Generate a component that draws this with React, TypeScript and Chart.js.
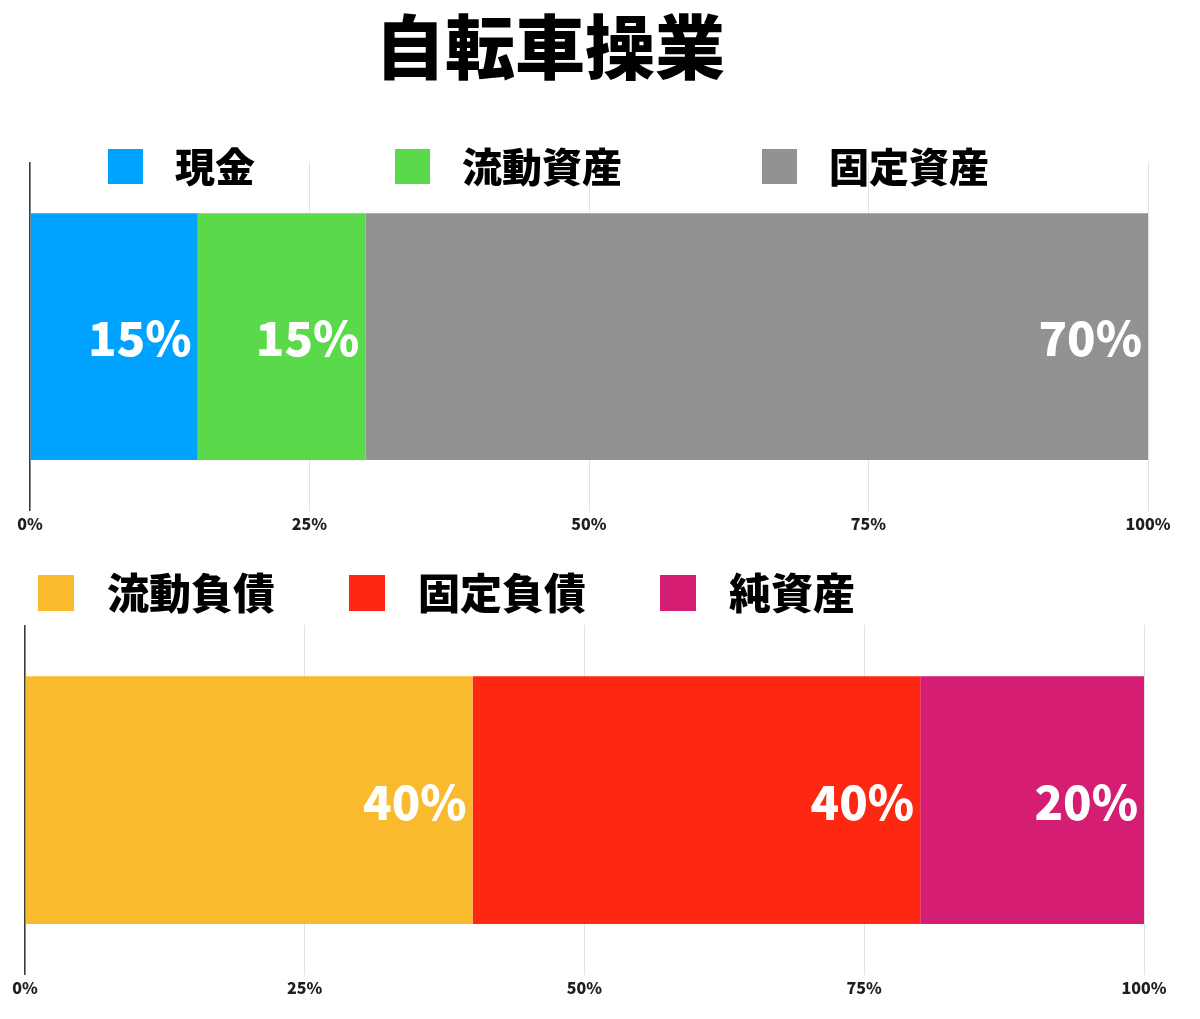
import { useEffect, useRef } from 'react';
import { Chart, registerables } from 'chart.js';
import type { Plugin } from 'chart.js';

Chart.register(...registerables);

const FONT = '"Noto Sans CJK JP", "Noto Sans", sans-serif';

const TITLE = '自転車操業';

const ASSET_CATEGORY = ['資産'];
const ASSET_LABELS = ['現金', '流動資産', '固定資産'];
const ASSET_VALUES = [15, 15, 70];
const ASSET_COLORS = ['#00a2ff', '#5ad94a', '#929292'];

const LIAB_CATEGORY = ['負債・純資産'];
const LIAB_LABELS = ['流動負債', '固定負債', '純資産'];
const LIAB_VALUES = [40, 40, 20];
const LIAB_COLORS = ['#f9ba2e', '#fe2812', '#d51d73'];

const X_TICK_STEP = 25;

// draws "15%" etc. right-aligned inside each segment
const valueLabels: Plugin<'bar'> = {
  id: 'valueLabels',
  afterDatasetsDraw(chart) {
    const { ctx } = chart;
    ctx.save();
    ctx.fillStyle = '#ffffff';
    ctx.font = `900 47px ${FONT}`;
    ctx.textAlign = 'right';
    ctx.textBaseline = 'middle';
    chart.data.datasets.forEach((ds, i) => {
      const meta = chart.getDatasetMeta(i);
      meta.data.forEach((el: any, j) => {
        const v = ds.data[j] as number;
        ctx.fillText(`${v}%`, el.x - 6, el.y + 2);
      });
    });
    ctx.restore();
  },
};

type StackProps = {
  category: string[];
  labels: string[];
  values: number[];
  colors: string[];
  padding: { left: number; right: number; top: number; bottom: number };
};

function StackBar({ category, labels, values, colors, padding }: StackProps) {
  const canvasRef = useRef<HTMLCanvasElement>(null);

  useEffect(() => {
    const canvas = canvasRef.current;
    if (!canvas) return;
    const chart = new Chart(canvas, {
      type: 'bar',
      data: {
        labels: category,
        datasets: labels.map((label, i) => ({
          label,
          data: [values[i]],
          backgroundColor: colors[i],
          borderWidth: 0,
          categoryPercentage: 1,
          barPercentage: 0.707,
        })),
      },
      options: {
        indexAxis: 'y',
        responsive: true,
        maintainAspectRatio: false,
        animation: false,
        layout: { padding },
        plugins: {
          legend: { display: false },
          tooltip: { enabled: false },
        },
        scales: {
          x: {
            stacked: true,
            min: 0,
            max: 100,
            border: { display: false },
            grid: {
              drawTicks: false,
              color: (c) => (c.index === 0 ? '#3a3a3a' : '#e3e3e3'),
              lineWidth: (c) => (c.index === 0 ? 1.6 : 1),
            },
            ticks: {
              stepSize: X_TICK_STEP,
              padding: 3,
              color: '#1e1e1e',
              font: { family: FONT, size: 16, weight: 900 },
              callback: (v) => `${v}%`,
            },
          },
          y: {
            stacked: true,
            display: false,
          },
        },
      },
      plugins: [valueLabels],
    });
    return () => chart.destroy();
  }, [category, labels, values, colors, padding]);

  return <canvas ref={canvasRef} />;
}

type LegendProps = {
  labels: string[];
  colors: string[];
  box: number;
  gap: number;
  itemGap: number;
  size: number;
};

function Legend({ labels, colors, box, gap, itemGap, size }: LegendProps) {
  return (
    <div style={{ display: 'flex', alignItems: 'center', gap: itemGap }}>
      {labels.map((l, i) => (
        <div key={l} style={{ display: 'flex', alignItems: 'center', gap }}>
          <span style={{ width: box, height: box, background: colors[i], display: 'inline-block' }} />
          <span style={{ fontSize: size, fontWeight: 900, lineHeight: 1, color: '#000', marginTop: -3 }}>{l}</span>
        </div>
      ))}
    </div>
  );
}

const TOP_PAD = { left: 30, right: 52, top: 62, bottom: 13.6 };
const BOTTOM_PAD = { left: 25, right: 56, top: 65, bottom: 9.6 };

export default function App() {
  return (
    <div style={{ position: 'absolute', left: 0, top: 0, width: 1200, height: 1019, background: '#fff', fontFamily: FONT }}>
      <div style={{ position: 'absolute', left: 0, top: 9, width: 1100, textAlign: 'center', fontSize: 70, fontWeight: 900, lineHeight: 1, color: '#000' }}>
        {TITLE}
      </div>

      <div style={{ position: 'absolute', left: 0, top: 100, width: 1200, height: 450 }}>
        <StackBar category={ASSET_CATEGORY} labels={ASSET_LABELS} values={ASSET_VALUES} colors={ASSET_COLORS} padding={TOP_PAD} />
      </div>
      <div style={{ position: 'absolute', left: 108, top: 148 }}>
        <Legend labels={ASSET_LABELS} colors={ASSET_COLORS} box={35} gap={32} itemGap={140} size={40} />
      </div>

      <div style={{ position: 'absolute', left: 0, top: 560, width: 1200, height: 450 }}>
        <StackBar category={LIAB_CATEGORY} labels={LIAB_LABELS} values={LIAB_VALUES} colors={LIAB_COLORS} padding={BOTTOM_PAD} />
      </div>
      <div style={{ position: 'absolute', left: 38, top: 573 }}>
        <Legend labels={LIAB_LABELS} colors={LIAB_COLORS} box={36} gap={33} itemGap={74} size={42} />
      </div>
    </div>
  );
}
